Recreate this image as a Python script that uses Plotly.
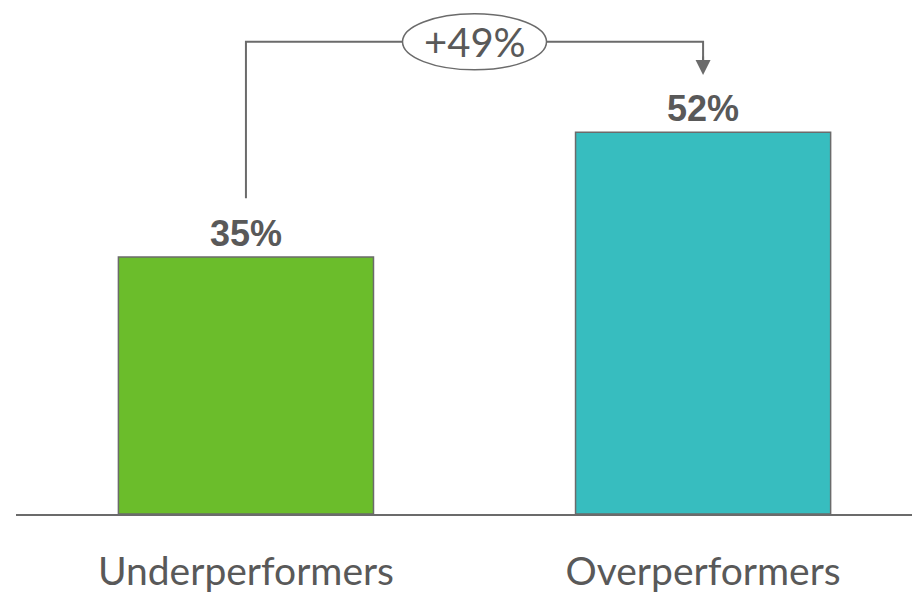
import plotly.graph_objects as go

categories = ["Underperformers", "Overperformers"]
values = [35, 52]
bar_colors = ["#6bbd2b", "#37bdbf"]

gray = "#6b6b6b"
text_gray = "#595959"

change = (values[1] - values[0]) / values[0] * 100
change_label = f"+{change:.0f}%"

fig = go.Figure()
fig.add_trace(go.Bar(
    x=categories, y=values,
    width=0.558,
    marker=dict(color=bar_colors, line=dict(color=gray, width=1.5)),
    text=[f"{v}%" for v in values],
    textposition="outside",
    textfont=dict(family="Liberation Sans, Arial", size=36, color=text_gray, weight="bold"),
    cliponaxis=False,
    hoverinfo="skip",
))

y_start = values[0] + 8
y_top = max(values) + 12.3
y_tip = values[1] + 7.8

fig.add_shape(type="path", xref="x", yref="y",
              path=f"M 0,{y_start} L 0,{y_top} L 1,{y_top} L 1,{y_tip + 2}",
              line=dict(color=gray, width=2))
fig.add_annotation(x=1, y=y_tip, xref="x", yref="y", ax=0, ay=-20,
                   text="", showarrow=True, arrowhead=2, arrowsize=1.5,
                   arrowwidth=2, arrowcolor=gray, standoff=0)
fig.add_shape(type="circle", xref="x", yref="y",
              xsizemode="pixel", ysizemode="pixel",
              xanchor=0.5, yanchor=y_top,
              x0=-72, x1=72, y0=-28, y1=28,
              fillcolor="white", line=dict(color=gray, width=1.5))
fig.add_annotation(x=0.5, y=y_top, xref="x", yref="y", text=change_label,
                   showarrow=False,
                   font=dict(family="Lato, Noto Sans", size=40, color=text_gray))

fig.update_layout(
    width=912, height=593,
    margin=dict(l=16, r=0, t=0, b=77),
    paper_bgcolor="white", plot_bgcolor="white",
    showlegend=False,
    xaxis=dict(type="category", range=[-0.503, 1.457],
               showline=True, linecolor=gray, linewidth=2,
               showgrid=False, zeroline=False, ticks="",
               tickfont=dict(family="Lato, Noto Sans", size=39, color=text_gray),
               ticklabelstandoff=22),
    yaxis=dict(range=[0, 70], visible=False, showgrid=False, zeroline=False),
)

fig.write_html("out.html")
